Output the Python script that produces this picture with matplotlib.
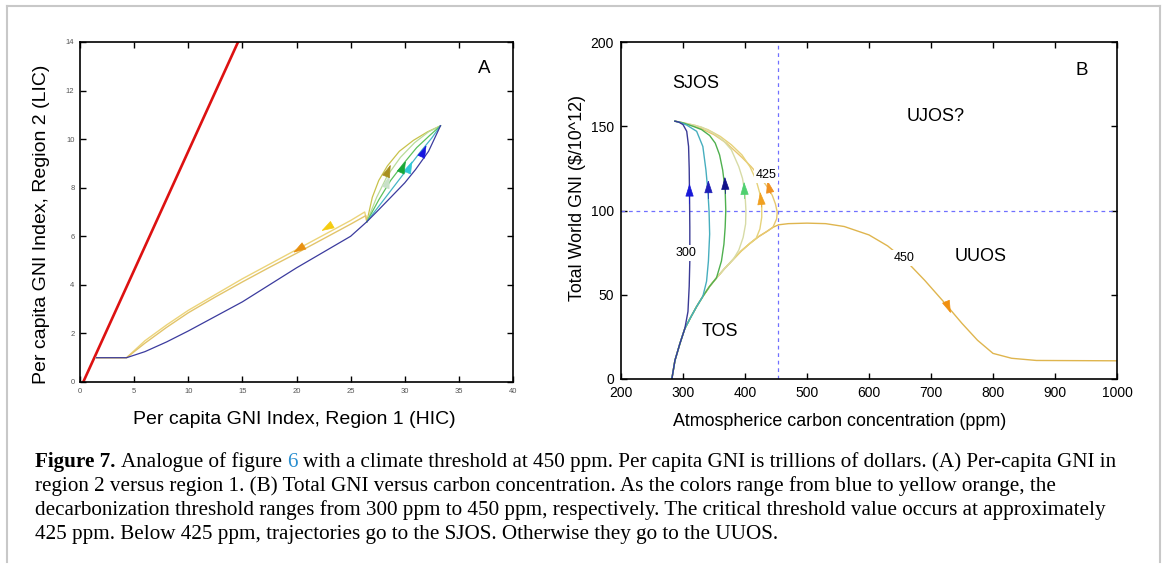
import matplotlib
matplotlib.use('Agg')
import matplotlib.pyplot as plt
from matplotlib.lines import Line2D

# ================= Panel A data =================
a_red_x = [0.3, 14.6]
a_red_y = [0.0, 14.0]

a_navy_x = [1.5, 4.3, 6, 8, 10, 12.5, 15, 17.5, 20, 22.5, 25, 26.5, 27.5, 28.7, 30, 31, 32.2, 33.3]
a_navy_y = [1.0, 1.0, 1.25, 1.65, 2.1, 2.7, 3.3, 4.0, 4.7, 5.35, 6.0, 6.6, 7.05, 7.6, 8.2, 8.75, 9.5, 10.55]

a_teal_x = [26.5, 27.8, 29.0, 30.2, 31.4, 32.5, 33.3]
a_teal_y = [6.6, 7.35, 8.05, 8.75, 9.45, 10.05, 10.55]
a_green_x = [26.5, 27.6, 28.7, 29.9, 31.1, 32.3, 33.3]
a_green_y = [6.6, 7.5, 8.3, 9.0, 9.65, 10.15, 10.55]
a_pale_x = [26.5, 27.4, 28.4, 29.6, 30.9, 32.2, 33.3]
a_pale_y = [6.6, 7.6, 8.5, 9.25, 9.85, 10.3, 10.55]
a_olive_x = [26.5, 27.0, 27.6, 28.4, 29.5, 30.8, 32.1, 33.3]
a_olive_y = [6.6, 7.6, 8.3, 8.9, 9.5, 9.95, 10.3, 10.55]

a_yellow_x = [26.5, 26.3, 25, 22.5, 20, 17.5, 15, 12.5, 10, 8, 6, 4.3, 1.5]
a_yellow_y = [6.6, 7.0, 6.65, 6.05, 5.45, 4.85, 4.25, 3.6, 2.95, 2.35, 1.7, 1.0, 1.0]
a_orange_x = [26.5, 26.4, 25, 22.5, 20, 17.5, 15, 12.5, 10, 8, 6, 4.3, 1.5]
a_orange_y = [6.6, 6.85, 6.5, 5.9, 5.3, 4.72, 4.12, 3.5, 2.85, 2.25, 1.6, 1.0, 1.0]

# arrows (tail -> head) in panel A
a_arrow_tail_x = [31.6, 30.3, 29.7, 28.3, 28.3, 23.0, 20.5]
a_arrow_tail_y = [9.35, 8.7, 8.7, 8.1, 8.5, 6.4, 5.55]
a_arrow_head_x = [32.0, 30.7, 30.1, 28.6, 28.7, 22.3, 19.7]
a_arrow_head_y = [9.75, 9.1, 9.1, 8.5, 8.95, 6.22, 5.33]
a_arrow_colors = ['#1515e0', '#30c8d8', '#18a838', '#c8e0c8', '#a89020', '#f5cc10', '#e89010']

a_xticks = [0, 5, 10, 15, 20, 25, 30, 35, 40]
a_yticks = [0, 2, 4, 6, 8, 10, 12, 14]

# ================= Panel B data =================
b_navy_x = [282, 287, 295, 303, 308, 310, 311, 311, 310.5, 310, 309, 306, 300, 293, 287]
b_navy_y = [0, 11, 21, 30, 40, 55, 70, 90, 110, 125, 138, 147, 151, 152.5, 153]

b_teal_x = [282, 287, 295, 303, 313, 322, 332, 338, 341, 343, 342, 340, 337, 332, 322, 306, 295, 287]
b_teal_y = [0, 11, 21, 30, 37, 43, 49, 58, 70, 86, 100, 112, 124, 138, 147, 150.7, 152.3, 153]

b_green_x = [282, 287, 295, 303, 313, 322, 332, 343, 354, 362, 366, 368, 369, 368, 364, 359, 352, 343, 330, 316, 300, 287]
b_green_y = [0, 11, 21, 30, 37, 43, 49, 55, 60, 70, 80, 90, 100, 112, 124, 133, 140, 144.5, 148, 150, 152, 153]

b_pale_x = [282, 287, 295, 303, 313, 322, 332, 343, 354, 367, 381, 390, 397, 401, 401.5, 400, 396, 390, 378, 365, 349, 330, 310, 295, 287]
b_pale_y = [0, 11, 21, 30, 37, 43, 49, 55, 60, 65.5, 71, 76.5, 84, 92, 100, 110, 119, 126, 136, 141.5, 146, 149.5, 151.3, 152.5, 153]

b_yellow_x = [282, 287, 295, 303, 313, 322, 332, 343, 354, 367, 381, 394, 408, 418, 424, 427, 427, 424, 418, 408, 395, 378, 360, 340, 320, 300, 287]
b_yellow_y = [0, 11, 21, 30, 37, 43, 49, 55, 60, 65.5, 71, 76, 80.5, 83.5, 89, 96, 103, 110, 118, 126, 133, 139, 144, 148, 150.5, 152, 153]

b_orange_x = [282, 287, 295, 303, 313, 322, 332, 343, 354, 367, 381, 394, 408, 422, 435, 445, 451, 452, 449, 444, 436, 424, 410, 395, 370, 350, 330, 310, 295, 287]
b_orange_y = [0, 11, 21, 30, 37, 43, 49, 55, 60, 65.5, 71, 76, 80.5, 84.5, 87.5, 90, 95, 99, 104, 109, 114, 120, 126, 131.5, 140, 145, 148.5, 151, 152.5, 153]

b_long_x = [282, 287, 295, 303, 313, 322, 332, 343, 354, 367, 381, 394, 408, 422, 435, 445, 454, 470, 500, 530, 560, 600, 630, 660, 690, 720, 750, 775, 800, 830, 870, 1000]
b_long_y = [0, 11, 21, 30, 37, 43, 49, 55, 60, 65.5, 71, 76, 80.5, 84.5, 87.5, 90, 91.5, 92.2, 92.5, 92.2, 90.5, 85.5, 79, 70, 58.5, 46, 33, 23, 15.2, 12.3, 11, 10.8]

b_arrow_tail_x = [310.6, 341.2, 368.5, 399.5, 427, 441, 724]
b_arrow_tail_y = [104, 107, 110, 107, 102, 110, 46]
b_arrow_head_x = [310.5, 340.8, 367.5, 398.5, 424.5, 436, 732]
b_arrow_head_y = [116, 118, 120, 117, 111, 118, 39]
b_arrow_colors = ['#1818d8', '#2020b8', '#101088', '#50d070', '#f0a020', '#f09020', '#f09010']

b_xticks = [200, 300, 400, 500, 600, 700, 800, 900, 1000]
b_yticks = [0, 50, 100, 150, 200]
b_threshold_ppm = 453
b_threshold_gni = 99.5

caption_runs_line1 = [("Figure 7.", 'bold', 'black'), ("Analogue of figure", 'normal', 'black'),
                      ("6", 'normal', '#2a8fd0'),
                      ("with a climate threshold at 450 ppm. Per capita GNI is trillions of dollars. (A) Per-capita GNI in", 'normal', 'black')]
caption_lines = [
    "region 2 versus region 1. (B) Total GNI versus carbon concentration. As the colors range from blue to yellow orange, the",
    "decarbonization threshold ranges from 300 ppm to 450 ppm, respectively. The critical threshold value occurs at approximately",
    "425 ppm. Below 425 ppm, trajectories go to the SJOS. Otherwise they go to the UUOS.",
]

# ================= Figure =================
W, H = 1165, 566
fig = plt.figure(figsize=(W / 100, H / 100), dpi=100)
plt.rcParams['font.family'] = ['Liberation Sans', 'DejaVu Sans']

def fx(px):
    return px / W

def fy(py):
    return 1 - py / H

# frame
for xs, ys in [([7, 7], [6, 562]), ([7, 1160], [6, 6]), ([1160, 1160], [6, 562])]:
    fig.add_artist(Line2D([fx(x) for x in xs], [fy(y) for y in ys], color='#c8c8c8', lw=1.5))

ARROW = '-|>,head_length=0.75,head_width=0.24'
MS = 11

# ---------- Panel A ----------
axA = fig.add_axes([fx(80), fy(382), fx(513) - fx(80), fy(42) - fy(382)])
axA.plot(a_red_x, a_red_y, color='#dd1111', lw=1.9)
axA.plot(a_yellow_x, a_yellow_y, color='#ecd47a', lw=1.0)
axA.plot(a_orange_x, a_orange_y, color='#e2c46a', lw=1.0)
axA.plot(a_olive_x, a_olive_y, color='#c8c24a', lw=0.9)
axA.plot(a_pale_x, a_pale_y, color='#b8dc9a', lw=0.9)
axA.plot(a_green_x, a_green_y, color='#5cc15c', lw=0.9)
axA.plot(a_teal_x, a_teal_y, color='#45b5c5', lw=0.9)
axA.plot(a_navy_x, a_navy_y, color='#3b3b9e', lw=0.9)
for tx, ty, hx, hy, c in zip(a_arrow_tail_x, a_arrow_tail_y, a_arrow_head_x, a_arrow_head_y, a_arrow_colors):
    axA.annotate('', xy=(hx, hy), xytext=(tx, ty),
                 arrowprops=dict(arrowstyle=ARROW, color=c,
                                 lw=0.5, shrinkA=0, shrinkB=0, mutation_scale=MS))
axA.set_xlim(0, 40)
axA.set_ylim(0, 14)
axA.set_xticks(a_xticks)
axA.set_yticks(a_yticks)
axA.tick_params(direction='in', length=4, width=1, top=True, right=True,
                labelsize=5.5, labelcolor='#555555', pad=4)
for s in axA.spines.values():
    s.set_linewidth(1.2)
axA.text(37.3, 12.9, 'A', fontsize=13.5, ha='center', va='center')
fig.text(fx(42), fy(224), 'Per capita GNI Index, Region 2 (LIC)', rotation=90,
         ha='center', va='center', fontsize=14)
fig.text(fx(294), fy(420), 'Per capita GNI Index, Region 1 (HIC)',
         ha='center', va='center', fontsize=14)

# ---------- Panel B ----------
axB = fig.add_axes([fx(621), fy(379), fx(1117) - fx(621), fy(42) - fy(379)])
axB.axvline(b_threshold_ppm, color='#7070ff', lw=0.9, ls=(0, (3, 3)))
axB.axhline(b_threshold_gni, color='#7070ff', lw=0.9, ls=(0, (3, 3)))
axB.plot(b_long_x, b_long_y, color='#dfb54e', lw=1.0)
axB.plot(b_orange_x, b_orange_y, color='#e8c870', lw=1.0)
axB.plot(b_yellow_x, b_yellow_y, color='#e6d27a', lw=1.0)
axB.plot(b_pale_x, b_pale_y, color='#d7dba6', lw=1.0)
axB.plot(b_green_x, b_green_y, color='#4fb04f', lw=1.0)
axB.plot(b_teal_x, b_teal_y, color='#46aebe', lw=1.0)
axB.plot(b_navy_x, b_navy_y, color='#3a3a96', lw=1.0)
for tx, ty, hx, hy, c in zip(b_arrow_tail_x, b_arrow_tail_y, b_arrow_head_x, b_arrow_head_y, b_arrow_colors):
    axB.annotate('', xy=(hx, hy), xytext=(tx, ty),
                 arrowprops=dict(arrowstyle=ARROW, color=c,
                                 lw=0.5, shrinkA=0, shrinkB=0, mutation_scale=MS))
bbox_w = dict(boxstyle='square,pad=0.15', fc='white', ec='none')
axB.text(305, 74.6, '300', fontsize=9, ha='center', va='center', bbox=bbox_w)
axB.text(434, 121, '425', fontsize=9, ha='center', va='center', bbox=bbox_w)
axB.text(656, 72, '450', fontsize=9, ha='center', va='center', bbox=bbox_w)
axB.text(320, 175.6, 'SJOS', fontsize=13, ha='center', va='center')
axB.text(707, 156, 'UJOS?', fontsize=13, ha='center', va='center')
axB.text(780, 72.7, 'UUOS', fontsize=13, ha='center', va='center')
axB.text(360, 28, 'TOS', fontsize=13, ha='center', va='center')
axB.text(943, 183, 'B', fontsize=13.5, ha='center', va='center')
axB.set_xlim(200, 1000)
axB.set_ylim(0, 200)
axB.set_xticks(b_xticks)
axB.set_yticks(b_yticks)
axB.tick_params(direction='in', length=4, width=1, top=True, right=True,
                labelsize=10, pad=5)
for s in axB.spines.values():
    s.set_linewidth(1.2)
fig.text(fx(577), fy(198), 'Total World GNI ($/10^12)', rotation=90,
         ha='center', va='center', fontsize=12.9)
fig.text(fx(840), fy(421), 'Atmospherice carbon concentration (ppm)',
         ha='center', va='center', fontsize=12.9)

# ---------- Caption ----------
cap_family = ['Liberation Serif', 'DejaVu Serif']
renderer = fig.canvas.get_renderer()
x0 = 35
target_right = 1113
baselines = [467, 491, 515, 539]
space_em = 0.25

def draw_runs(fs):
    x = x0
    arts = []
    for txt, wt, col in caption_runs_line1:
        t = fig.text(fx(x), fy(baselines[0]), txt, fontsize=fs, family=cap_family,
                     weight=wt, color=col, va='baseline', ha='left')
        arts.append(t)
        bb = t.get_window_extent(renderer)
        x = bb.x1 + fs * 100 / 72 * space_em
    return arts, bb.x1

base_fs = 12.0
arts, right = draw_runs(base_fs)
for a in arts:
    a.remove()
cap_fs = base_fs * (target_right - x0) / (right - x0)
draw_runs(cap_fs)
for line, b in zip(caption_lines, baselines[1:]):
    fig.text(fx(x0), fy(b), line, fontsize=cap_fs, family=cap_family,
             va='baseline', ha='left')

fig.savefig('out.png', dpi=100)
